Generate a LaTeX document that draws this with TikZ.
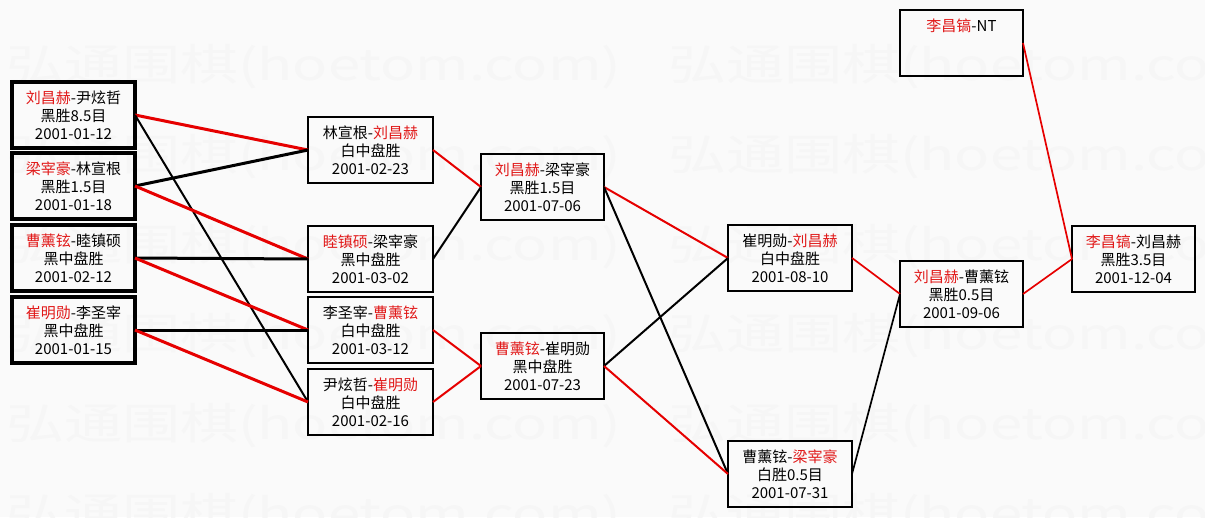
\documentclass[tikz,border=0pt]{standalone}
\usepackage{fontspec}
\usepackage{graphicx}
\setmainfont{Noto Sans CJK SC}
\definecolor{lr}{RGB}{230,0,0}
\definecolor{tr}{RGB}{225,25,25}
\definecolor{wm}{RGB}{246,246,246}
\newcommand{\R}[1]{\textcolor{tr}{#1}}
\begin{document}
\begin{tikzpicture}[x=1pt,y=-1pt,
  game/.style={draw=black, line width=2.2pt, minimum width=123pt, minimum height=66pt,
    inner sep=0pt, outer sep=0pt, align=center, font=\fontsize{15}{18}\selectfont},
  first/.style={game, line width=3.6pt},
  win/.style={draw=lr, line width=2pt},
  lose/.style={draw=black, line width=2pt},
  heavy/.style={line width=3pt},
  wmark/.style={text=wm, inner sep=0pt, anchor=base west}
]
\useasboundingbox (0,0) rectangle (1205,517);
\clip (0,0) rectangle (1205,517);
\fill[white!98!black] (0,0) rectangle (1205,517);
% watermark
\foreach \yy [count=\k] in {63,153,243,332,422,512} {
  \node[wmark, name=wa\k] at (6,\yy+17) {\resizebox{615pt}{36pt}{弘通围棋(hoetom.com)}};
  \node[wmark, name=wb\k] at (668,\yy+17) {\resizebox{615pt}{36pt}{弘通围棋(hoetom.com)}};
}
% round 1
\node[first] (a1) at (73.5,115) {\R{刘昌赫}-尹炫哲\\黑胜8.5目\\2001-01-12};
\node[first] (a2) at (73.5,186) {\R{梁宰豪}-林宣根\\黑胜1.5目\\2001-01-18};
\node[first] (a3) at (73.5,258) {\R{曹薰铉}-睦镇硕\\黑中盘胜\\2001-02-12};
\node[first] (a4) at (73.5,330) {\R{崔明勋}-李圣宰\\黑中盘胜\\2001-01-15};
% round 2
\node[game, minimum width=125pt] (b1) at (370.5,150) {林宣根-\R{刘昌赫}\\白中盘胜\\2001-02-23};
\node[game, minimum width=125pt] (b2) at (370.5,259) {\R{睦镇硕}-梁宰豪\\黑中盘胜\\2001-03-02};
\node[game, minimum width=125pt] (b3) at (370.5,330) {李圣宰-\R{曹薰铉}\\白中盘胜\\2001-03-12};
\node[game, minimum width=125pt] (b4) at (370.5,402) {尹炫哲-\R{崔明勋}\\白中盘胜\\2001-02-16};
% round 3
\node[game] (c1) at (542.5,187) {\R{刘昌赫}-梁宰豪\\黑胜1.5目\\2001-07-06};
\node[game] (c2) at (542.5,366) {\R{曹薰铉}-崔明勋\\黑中盘胜\\2001-07-23};
% round 4
\node[game, line width=1.8pt, minimum width=124pt] (d1) at (790,258) {崔明勋-\R{刘昌赫}\\白中盘胜\\2001-08-10};
\node[game, line width=1.8pt, minimum width=124pt] (d2) at (790,474) {曹薰铉-\R{梁宰豪}\\白胜0.5目\\2001-07-31};
% round 5
\node[game, line width=1.8pt] (e1) at (961.5,294) {\R{刘昌赫}-曹薰铉\\黑胜0.5目\\2001-09-06};
% final
\node[game, line width=1.8pt] (f1) at (1133.5,259) {\R{李昌镐}-刘昌赫\\黑胜3.5目\\2001-12-04};
\node[game, line width=1.8pt] (nt) at (961.5,43) {\R{李昌镐}-NT\\~\\~};
% connectors
\draw[win, heavy] (a1.east) -- (b1.west);
\draw[lose] (a1.east) -- (b4.west);
\draw[lose, heavy] (a2.east) -- (b1.west);
\draw[win, heavy] (a2.east) -- (b2.west);
\draw[lose, heavy] (a3.east) -- (b2.west);
\draw[win, heavy] (a3.east) -- (b3.west);
\draw[lose, heavy] (a4.east) -- (b3.west);
\draw[win, heavy] (a4.east) -- (b4.west);
\draw[win] (b1.east) -- (c1.west);
\draw[lose] (b2.east) -- (c1.west);
\draw[win] (b3.east) -- (c2.west);
\draw[win] (b4.east) -- (c2.west);
\draw[win] (c1.east) -- (d1.west);
\draw[lose] (c1.east) -- (d2.west);
\draw[lose] (c2.east) -- (d1.west);
\draw[win] (c2.east) -- (d2.west);
\draw[win, line width=1.7pt] (d1.east) -- (e1.west);
\draw[lose, line width=1.7pt] (d2.east) -- (e1.west);
\draw[win, line width=1.7pt] (e1.east) -- (f1.west);
\draw[win, line width=1.7pt] (nt.east) -- (f1.west);
\end{tikzpicture}
\end{document}
